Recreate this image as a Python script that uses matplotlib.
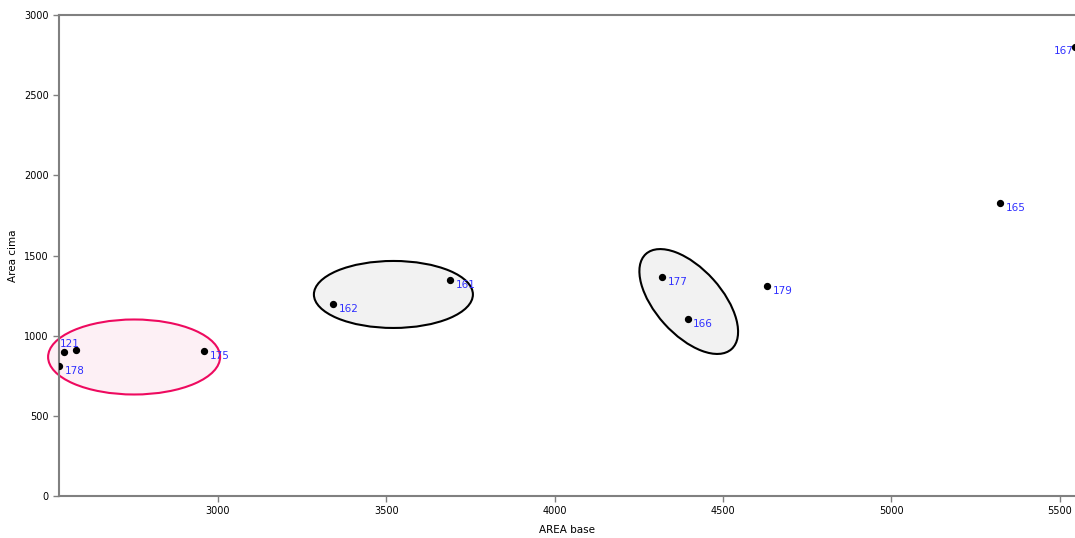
import matplotlib.pyplot as plt
from matplotlib.patches import Ellipse
from matplotlib.transforms import Affine2D, ScaledTranslation

# ---- data ----
area_base = [2528, 2543, 2579, 2958, 3341, 3689, 4318, 4395, 4630, 5322, 5545]
area_cima = [811, 898, 911, 905, 1198, 1347, 1366, 1104, 1310, 1828, 2800]
ids = ["178", "121", "", "175", "162", "161", "177", "166", "179", "165", "167"]

# groups drawn as ellipses: centre (data), width/height in pixels, angle
ell_cx = [2751, 3521, 4398]
ell_cy = [867, 1257, 1213]
ell_w = [172, 159, 128]
ell_h = [75, 67, 66]
ell_ang = [0, 0, -48]
ell_face = ["#fdf0f5", "#f2f2f2", "#f2f2f2"]
ell_edge = ["#ee0a5f", "black", "black"]

fig = plt.figure(figsize=(10.75, 5.38), dpi=100)
ax = fig.add_axes([59 / 1075, 42 / 538, 1 - 59 / 1075, (496 - 15) / 538])

for cx, cy, w, h, a, fc, ec in zip(ell_cx, ell_cy, ell_w, ell_h, ell_ang, ell_face, ell_edge):
    tr = Affine2D() + ScaledTranslation(cx, cy, ax.transData)
    ax.add_patch(Ellipse((0, 0), w, h, angle=a, transform=tr, clip_on=False,
                         facecolor=fc, edgecolor=ec, linewidth=1.5, zorder=1))

ax.scatter(area_base, area_cima, s=18, color="black", zorder=3, clip_on=True)

for x, y, t in zip(area_base, area_cima, ids):
    if not t:
        continue
    dx, dy, ha = 4, -3.5, "left"
    if t == "121":
        dx, dy = -3, 6
    if t == "167":
        dx, dy, ha = -1, -3, "right"
    ax.annotate(t, (x, y), xytext=(dx, dy), textcoords="offset points",
                ha=ha, va="center", fontsize=7.5, color="#3030ff", zorder=4)

ax.set_xlim(min(area_base), max(area_base))
ax.set_ylim(0, 3000)
ax.set_xticks([3000, 3500, 4000, 4500, 5000, 5500])
ax.set_yticks([0, 500, 1000, 1500, 2000, 2500, 3000])

for s in ["left", "bottom", "top"]:
    ax.spines[s].set_color("#808080")
    ax.spines[s].set_linewidth(1.5)
ax.spines["right"].set_visible(False)
ax.tick_params(colors="#808080", labelcolor="black", labelsize=7, length=4, width=1)

ax.set_xlabel("AREA base", fontsize=7.5, labelpad=6)
ax.set_ylabel("Area cima", fontsize=7.5)
ax.yaxis.set_label_coords(-(59 - 18) / 1016, 0.5)

plt.savefig("out.png", dpi=100)
